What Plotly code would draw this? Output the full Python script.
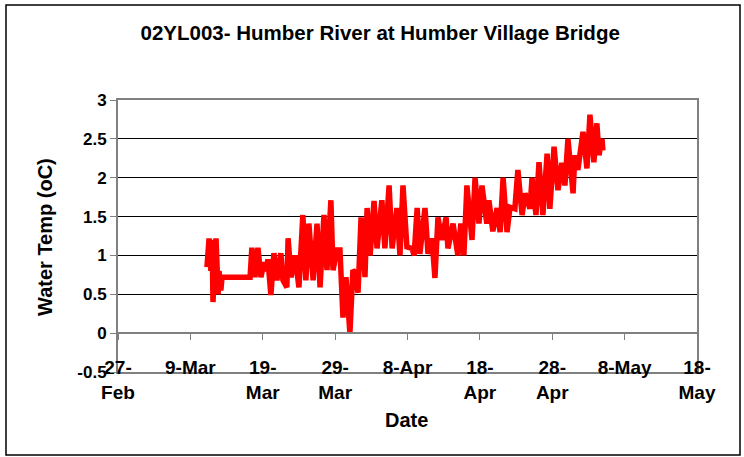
import plotly.graph_objects as go

# ---- data ----
times = [
    "2007-03-11 07:00", "2007-03-11 14:00", "2007-03-11 20:00", "2007-03-12 00:00",
    "2007-03-12 03:00", "2007-03-12 10:00", "2007-03-12 13:00", "2007-03-12 20:00",
    "2007-03-12 23:00", "2007-03-13 05:00", "2007-03-13 09:00", "2007-03-17 06:00",
    "2007-03-17 12:00", "2007-03-17 22:00", "2007-03-18 08:00", "2007-03-18 18:00",
    "2007-03-19 04:00", "2007-03-19 11:00", "2007-03-19 17:00", "2007-03-20 03:00",
    "2007-03-20 13:00", "2007-03-20 23:00", "2007-03-21 12:00", "2007-03-21 19:00",
    "2007-03-22 08:00", "2007-03-22 12:00", "2007-03-22 22:00", "2007-03-23 11:00",
    "2007-03-24 00:00", "2007-03-24 13:00", "2007-03-24 23:00", "2007-03-25 09:00",
    "2007-03-25 23:00", "2007-03-26 12:00", "2007-03-26 22:00", "2007-03-27 11:00",
    "2007-03-27 21:00", "2007-03-28 10:00", "2007-03-28 17:00", "2007-03-29 06:00",
    "2007-03-29 16:00", "2007-03-30 02:00", "2007-03-30 12:00", "2007-03-31 01:00",
    "2007-03-31 11:00", "2007-03-31 18:00", "2007-04-01 04:00", "2007-04-01 14:00",
    "2007-04-02 03:00", "2007-04-02 10:00", "2007-04-02 20:00", "2007-04-03 09:00",
    "2007-04-03 19:00", "2007-04-04 11:00", "2007-04-04 21:00", "2007-04-05 11:00",
    "2007-04-05 21:00", "2007-04-06 13:00", "2007-04-06 23:00", "2007-04-07 09:00",
    "2007-04-07 22:00", "2007-04-08 15:00", "2007-04-08 22:00", "2007-04-09 08:00",
    "2007-04-09 17:00", "2007-04-10 10:00", "2007-04-10 20:00", "2007-04-11 09:00",
    "2007-04-11 19:00", "2007-04-12 05:00", "2007-04-12 18:00", "2007-04-13 08:00",
    "2007-04-13 14:00", "2007-04-14 07:00", "2007-04-14 23:00", "2007-04-15 09:00",
    "2007-04-15 19:00", "2007-04-16 05:00", "2007-04-16 22:00", "2007-04-17 08:00",
    "2007-04-17 21:00", "2007-04-18 07:00", "2007-04-18 23:00", "2007-04-19 06:00",
    "2007-04-19 19:00", "2007-04-20 09:00", "2007-04-20 19:00", "2007-04-21 05:00",
    "2007-04-21 18:00", "2007-04-22 04:00", "2007-04-22 20:00", "2007-04-23 06:00",
    "2007-04-23 20:00", "2007-04-24 06:00", "2007-04-24 22:00", "2007-04-25 05:00",
    "2007-04-25 18:00", "2007-04-26 04:00", "2007-04-26 17:00", "2007-04-27 07:00",
    "2007-04-27 16:00", "2007-04-28 06:00", "2007-04-28 19:00", "2007-04-29 08:00",
    "2007-04-29 18:00", "2007-04-30 04:00", "2007-04-30 21:00", "2007-05-01 03:00",
    "2007-05-01 13:00", "2007-05-02 06:00", "2007-05-02 19:00", "2007-05-03 05:00",
    "2007-05-03 18:00", "2007-05-04 04:00", "2007-05-04 11:00", "2007-05-04 21:00",
    "2007-05-05 00:00",
]
water_temp = [
    0.85, 1.22, 0.80, 1.20,
    0.40, 1.10, 1.22, 0.50,
    0.80, 0.55, 0.72, 0.72,
    1.10, 0.72, 1.10, 0.72,
    0.91, 0.80, 0.95, 0.49,
    1.03, 0.68, 1.03, 0.68,
    0.59, 1.22, 0.72, 1.00,
    0.59, 1.52, 0.68, 1.41,
    0.68, 1.41, 0.59, 1.52,
    0.81, 1.71, 0.81, 1.07,
    1.07, 0.20, 0.72, 0.00,
    0.81, 0.78, 0.52, 1.49,
    0.72, 1.61, 1.00, 1.70,
    1.09, 1.71, 1.09, 1.90,
    1.09, 1.61, 1.00, 1.90,
    1.11, 1.09, 1.00, 1.61,
    1.02, 1.61, 1.02, 1.22,
    0.71, 1.49, 1.20, 1.49,
    1.09, 1.41, 1.00, 1.41,
    1.00, 1.90, 1.20, 2.00,
    1.41, 1.90, 1.41, 1.71,
    1.31, 1.61, 1.30, 2.00,
    1.30, 1.62, 1.60, 2.10,
    1.52, 1.80, 1.60, 2.00,
    1.52, 2.20, 1.52, 2.31,
    1.60, 2.40, 1.84, 2.19,
    1.90, 2.50, 1.80, 2.29,
    2.10, 2.59, 2.12, 2.81,
    2.20, 2.70, 2.29, 2.50,
    2.35,
]
x_tick_dates = ["2007-02-27", "2007-03-09", "2007-03-19", "2007-03-29", "2007-04-08",
                "2007-04-18", "2007-04-28", "2007-05-08", "2007-05-18"]
x_tick_labels = ["27-<br>Feb", "9-Mar", "19-<br>Mar", "29-<br>Mar", "8-Apr",
                 "18-<br>Apr", "28-<br>Apr", "8-May", "18-<br>May"]
y_tick_values = [-0.5, 0, 0.5, 1, 1.5, 2, 2.5, 3]
y_tick_labels = ["-0.5", "0", "0.5", "1", "1.5", "2", "2.5", "3"]

title_text = "02YL003- Humber River at Humber Village Bridge"
x_title = "Date"
y_title = "Water Temp (oC)"

FONT = "Liberation Sans, Arial, sans-serif"
GRAY = "#808080"

fig = go.Figure()
fig.add_trace(go.Scatter(
    x=times, y=water_temp, mode="lines",
    line=dict(color="#FF0000", width=5.5),
    showlegend=False, hoverinfo="x+y",
))
# helper trace so the crossing axis at y=0 is drawn
fig.add_trace(go.Scatter(
    x=[x_tick_dates[0]], y=[None], xaxis="x2", mode="lines",
    showlegend=False, hoverinfo="skip",
))

fig.update_layout(
    width=744, height=457,
    margin=dict(l=118, r=47, t=100, b=85),
    paper_bgcolor="white", plot_bgcolor="white",
    font=dict(family=FONT, color="black"),
    title=dict(text="<b>" + title_text + "</b>", x=0.511, xanchor="center",
               y=1 - 33 / 457, yanchor="middle",
               font=dict(size=20.5, family=FONT, color="black")),
    xaxis=dict(
        type="date", range=[x_tick_dates[0], x_tick_dates[-1]],
        tickvals=x_tick_dates, ticktext=["<b>" + t + "</b>" for t in x_tick_labels],
        tickfont=dict(size=19, family=FONT, color="black"),
        ticks="", showgrid=False, zeroline=False,
        showline=True, linecolor=GRAY, linewidth=2, mirror=True,
        ticklabelstandoff=-23,
    ),
    xaxis2=dict(
        type="date", range=[x_tick_dates[0], x_tick_dates[-1]],
        overlaying="x", anchor="free", position=0.5 / 3.5,
        tickvals=x_tick_dates, showticklabels=False,
        ticks="outside", ticklen=6, tickcolor=GRAY, tickwidth=1,
        showline=True, linecolor=GRAY, linewidth=2, showgrid=False, zeroline=False,
    ),
    yaxis=dict(
        range=[-0.5, 3], tickvals=y_tick_values,
        ticktext=["<b>" + t + "</b>" for t in y_tick_labels],
        tickfont=dict(size=17, family=FONT, color="black"),
        ticks="outside", ticklen=6, tickcolor=GRAY, tickwidth=1,
        showgrid=True, gridcolor="black", gridwidth=1, zeroline=False,
        showline=True, linecolor=GRAY, linewidth=2, mirror=True,
    ),
    annotations=[
        dict(text="<b>" + x_title + "</b>", xref="paper", yref="paper",
             x=(406 - 118) / 579, y=(372 - 420) / 272, xanchor="center", yanchor="middle",
             showarrow=False, font=dict(size=20, family=FONT, color="black")),
        dict(text="<b>" + y_title + "</b>", xref="paper", yref="paper", textangle=-90,
             x=(45 - 118) / 579, y=(372 - 237) / 272, xanchor="center", yanchor="middle",
             showarrow=False, font=dict(size=20, family=FONT, color="black")),
    ],
    shapes=[
        dict(type="rect", xref="paper", yref="paper",
             x0=(6 - 118) / 579, x1=(740 - 118) / 579,
             y0=(372 - 455) / 272, y1=(372 - 5) / 272,
             line=dict(color="black", width=1.5), fillcolor="rgba(0,0,0,0)", layer="below"),
    ],
)

fig.write_html("out.html", config={"displayModeBar": False},
               post_script="document.body.style.margin='0px';")
